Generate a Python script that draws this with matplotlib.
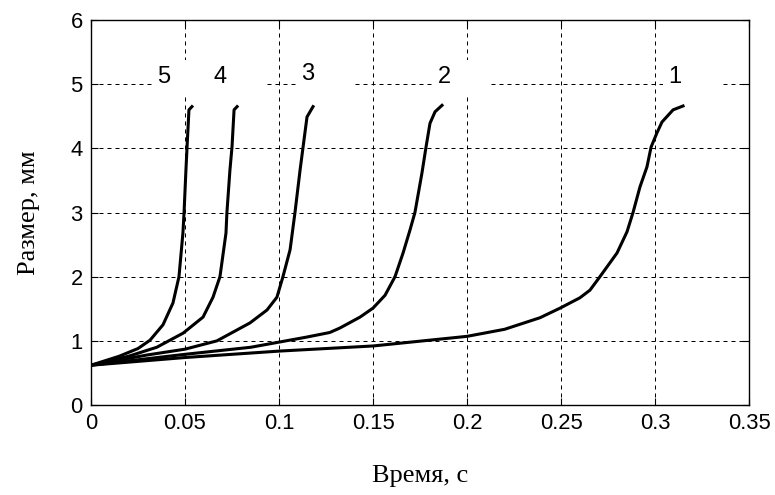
import numpy as np
import matplotlib.pyplot as plt

# Кривые 1..5: время (с) и размер (мм)
t1 = [0, 0.05, 0.1, 0.15, 0.2, 0.22, 0.2388, 0.2495, 0.26, 0.2654, 0.2707, 0.2798,
      0.2851, 0.2883, 0.292, 0.2957, 0.2979, 0.301, 0.3037, 0.3096, 0.3149]
r1 = [0.62, 0.74, 0.84, 0.92, 1.07, 1.18, 1.36, 1.51, 1.67, 1.79, 2.0, 2.37,
      2.7, 3.0, 3.4, 3.71, 4.02, 4.24, 4.41, 4.6, 4.66]

t2 = [0, 0.05, 0.085, 0.1, 0.115, 0.127, 0.1324, 0.1431, 0.15, 0.1564, 0.1617, 0.166,
      0.1697, 0.1723, 0.176, 0.1782, 0.1803, 0.183, 0.1867]
r2 = [0.62, 0.79, 0.9, 0.98, 1.06, 1.13, 1.2, 1.37, 1.51, 1.71, 2.0, 2.37,
      2.73, 3.0, 3.61, 4.02, 4.39, 4.57, 4.67]

t3 = [0, 0.03, 0.05, 0.067, 0.0846, 0.0936, 0.0989, 0.1021, 0.1059, 0.1085, 0.1112,
      0.1128, 0.1149, 0.1181]
r3 = [0.62, 0.78, 0.87, 1.0, 1.28, 1.48, 1.68, 2.0, 2.42, 3.0, 3.66, 4.02, 4.49, 4.65]

t4 = [0, 0.02, 0.035, 0.049, 0.0596, 0.0649, 0.0686, 0.0718, 0.0723, 0.0739, 0.075,
      0.0761, 0.0777]
r4 = [0.62, 0.76, 0.9, 1.12, 1.37, 1.68, 2.0, 2.68, 3.0, 3.66, 4.02, 4.6, 4.65]

t5 = [0, 0.015, 0.025, 0.0314, 0.0383, 0.0436, 0.0468, 0.0489, 0.0495, 0.0505, 0.0511,
      0.0521, 0.0537]
r5 = [0.62, 0.76, 0.88, 1.01, 1.25, 1.59, 2.0, 2.68, 3.0, 3.66, 4.02, 4.6, 4.65]

curves = [(t1, r1), (t2, r2), (t3, r3), (t4, r4), (t5, r5)]
names = ["1", "2", "3", "4", "5"]
name_x = [0.3075, 0.1845, 0.1122, 0.0656, 0.0357]
name_y = [5.02, 5.02, 5.06, 5.02, 5.02]

xticks = [0, 0.05, 0.1, 0.15, 0.2, 0.25, 0.3, 0.35]
xticklabels = ["0", "0.05", "0.1", "0.15", "0.2", "0.25", "0.3", "0.35"]
yticks = [0, 1, 2, 3, 4, 5, 6]

fig = plt.figure(figsize=(7.75, 4.95), dpi=100)
ax = fig.add_axes([0.1174, 0.1818, 0.8491, 0.7778])

for t, r in curves:
    ax.plot(t, r, color="black", lw=2.2, zorder=3, solid_joinstyle="round")

for s, x, y in zip(names, name_x, name_y):
    ax.text(x, y, s + "     ", ha="left", va="baseline", fontsize=17,
            family="Liberation Sans", zorder=2.5,
            bbox=dict(boxstyle="square,pad=0.25", fc="white", ec="none"))

ax.set_xlim(0, 0.35)
ax.set_ylim(0, 6)
ax.set_xticks(xticks)
ax.set_xticklabels(xticklabels)
ax.set_yticks(yticks)
ax.grid(True, color="black", lw=0.72, linestyle=(0, (4, 4)), zorder=1)
ax.set_axisbelow(True)

ax.tick_params(direction="in", length=5, width=0.8, top=True, right=True,
               labelsize=15.8, pad=6)
for lab in ax.get_xticklabels() + ax.get_yticklabels():
    lab.set_family("Liberation Sans")
for sp in ax.spines.values():
    sp.set_linewidth(1.0)

ax.set_xlabel("Время, с", family="Liberation Serif", fontsize=19, labelpad=22)
ax.set_ylabel("Размер, мм", family="Liberation Serif", fontsize=19, labelpad=22)

fig.savefig("out.png", dpi=100)
